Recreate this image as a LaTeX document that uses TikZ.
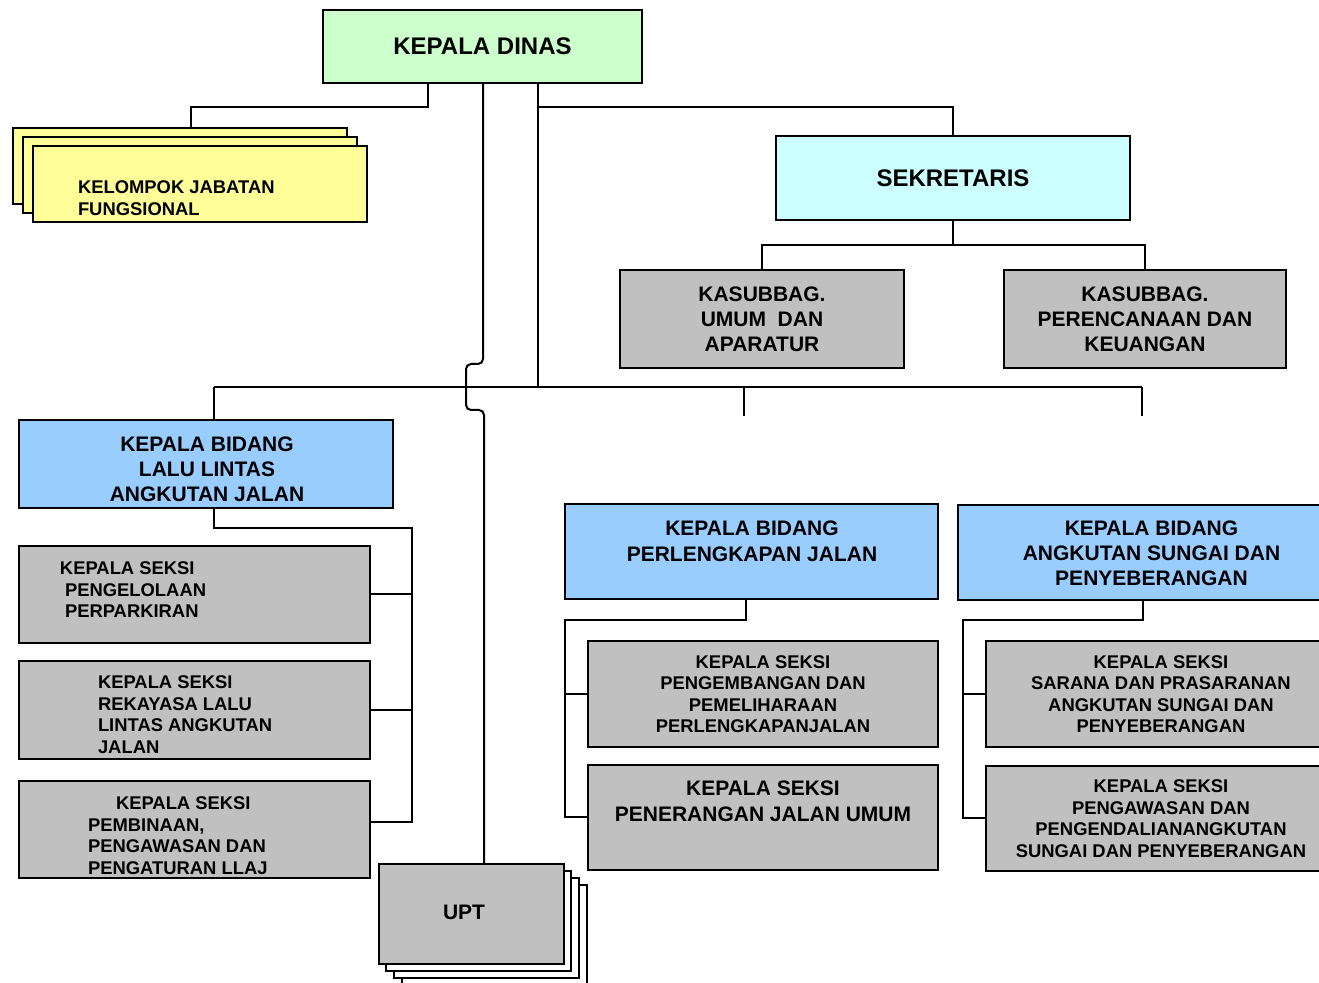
\documentclass[tikz,border=0pt]{standalone}
\usepackage{fontspec}
\setmainfont{Liberation Sans}
\usetikzlibrary{calc,positioning,shadows}
\definecolor{DinasGreen}{RGB}{204,255,204}
\definecolor{SekCyan}{RGB}{204,255,255}
\definecolor{FungYellow}{RGB}{255,255,153}
\definecolor{BidangBlue}{RGB}{153,204,255}
\definecolor{SeksiGray}{RGB}{192,192,192}
\tikzset{
  box/.style={draw,line width=1pt,inner sep=0pt,align=center},
  headbox/.style={box,font=\bfseries\fontsize{12}{14}\selectfont},
  bidang/.style={box,fill=BidangBlue,font=\bfseries\fontsize{10.5}{12.5}\selectfont},
  kasub/.style={box,fill=SeksiGray,font=\bfseries\fontsize{10.5}{12.5}\selectfont},
  seksi/.style={box,fill=SeksiGray,font=\bfseries\fontsize{9.2}{10.75}\selectfont},
  seksitxt/.style={inner sep=0pt,anchor=north west,align=left,font=\bfseries\fontsize{9.2}{10.75}\selectfont},
  bigtxt/.style={inner sep=0pt,align=center,font=\bfseries\fontsize{10.5}{13}\selectfont}
}
\begin{document}
\begin{tikzpicture}[x=0.5pt,y=-0.5pt,line width=1pt]
\useasboundingbox (0,0) rectangle (1319,983);

% pimpinan
\node[headbox,fill=DinasGreen,minimum width=159.5pt,minimum height=36.5pt] (dinas) at (482.5,46.5) {KEPALA DINAS};
\node[headbox,fill=SekCyan,minimum width=177pt,minimum height=42pt] (sek) at (953,178) {SEKRETARIS};
\node[box,fill=FungYellow,minimum width=167pt,minimum height=38pt,
  copy shadow={shadow xshift=-10pt,shadow yshift=9pt,fill=FungYellow},
  copy shadow={shadow xshift=-5pt,shadow yshift=4.5pt,fill=FungYellow}] (kjf) at (200,184) {};
\node[seksitxt,font=\bfseries\fontsize{9.2}{11}\selectfont] (kjft) at (77,180) {KELOMPOK JABATAN\\FUNGSIONAL};

% sekretariat
\node[kasub,minimum width=142pt,minimum height=49pt] (kumum) at (762,319) {KASUBBAG.\\UMUM\ \ DAN\\APARATUR};
\node[kasub,minimum width=141pt,minimum height=49pt] (kren) at (1145,319) {KASUBBAG.\\PERENCANAAN DAN\\KEUANGAN};

% bidang
\node[bidang,minimum width=187pt,minimum height=44pt] (bllaj) at (206,464) {};
\node[bigtxt,font=\bfseries\fontsize{10.5}{12.5}\selectfont] (bllajt) at (207,469) {KEPALA BIDANG\\LALU LINTAS\\ANGKUTAN JALAN};
\node[bidang,minimum width=186.5pt,minimum height=47.5pt] (bpj) at (751.5,551.5) {};
\node[bigtxt] (bpjt) at (752,541.5) {KEPALA BIDANG\\PERLENGKAPAN JALAN};
\node[bidang,minimum width=193.5pt,minimum height=47.5pt] (basdp) at (1151.5,553) {KEPALA BIDANG\\ANGKUTAN SUNGAI DAN\\PENYEBERANGAN};

% seksi bidang LLAJ
\node[seksi,minimum width=175.5pt,minimum height=48.5pt] (s1) at (194.5,594.5) {};
\node[seksitxt] (s1t) at (59,561) {KEPALA SEKSI\\\hspace*{2.5pt}PENGELOLAAN\\\hspace*{2.5pt}PERPARKIRAN};
\node[seksi,minimum width=175.5pt,minimum height=49pt] (s2) at (194.5,710) {};
\node[seksitxt] (s2t) at (97,675) {KEPALA SEKSI\\REKAYASA LALU\\LINTAS ANGKUTAN\\JALAN};
\node[seksi,minimum width=175.5pt,minimum height=48.5pt] (s3) at (194.5,829.5) {};
\node[seksitxt] (s3t) at (87,796) {\hspace*{14pt}KEPALA SEKSI\\PEMBINAAN,\\PENGAWASAN DAN\\PENGATURAN LLAJ};

% seksi bidang perlengkapan jalan
\node[seksi,minimum width=175pt,minimum height=53pt] (pj1) at (763,694) {KEPALA SEKSI\\PENGEMBANGAN DAN\\PEMELIHARAAN\\PERLENGKAPANJALAN};
\node[seksi,minimum width=175pt,minimum height=52.5pt] (pj2) at (763,817.5) {};
\node[bigtxt] (pj2t) at (763,801) {KEPALA SEKSI\\PENERANGAN JALAN UMUM};

% seksi bidang ASDP
\node[seksi,minimum width=175pt,minimum height=53pt] (sd1) at (1161,694) {KEPALA SEKSI\\SARANA DAN PRASARANAN\\ANGKUTAN SUNGAI DAN\\PENYEBERANGAN};
\node[seksi,minimum width=175pt,minimum height=52.5pt] (sd2) at (1161,818.5) {KEPALA SEKSI\\PENGAWASAN DAN\\PENGENDALIANANGKUTAN\\SUNGAI DAN PENYEBERANGAN};

% UPT
\node[kasub,minimum width=92.5pt,minimum height=50pt,
  copy shadow={shadow xshift=11.5pt,shadow yshift=-10.5pt,fill=white},
  copy shadow={shadow xshift=7.5pt,shadow yshift=-7pt,fill=white},
  copy shadow={shadow xshift=3.5pt,shadow yshift=-3.5pt,fill=white}] (upt) at (471.5,914) {};
\node[bigtxt] (uptt) at (464,912) {UPT};

% garis komando atas
\coordinate (kjfin) at (191,128);
\coordinate (jA) at (428,107);
\coordinate (jB) at (538,107);
\coordinate (jC) at (538,387);
\draw (dinas.south -| jA) -- (jA) -| (kjfin);
\draw (dinas.south -| jB) -- (jC);
\draw (jB) -| (sek.north);
\coordinate (jD) at (953,245);
\draw (sek.south) -- (jD);
\draw (kumum.north) |- (jD) -| (kren.north);

% garis bidang
\coordinate (busL) at (214,387);
\coordinate (busM) at (744,387);
\coordinate (busR) at (1142,387);
\coordinate (stubM) at (744,416);
\coordinate (stubR) at (1142,416);
\draw (busL) -- (busR);
\draw (busL) -- (busL |- bllaj.north);
\draw (busM) -- (stubM);
\draw (busR) -- (stubR);

% garis UPT, melompati garis bidang
\coordinate (uA) at (483,364);
\coordinate (uB) at (466,364);
\coordinate (uC) at (466,410);
\coordinate (uD) at (484,410);
\draw[rounded corners=2.5pt] (dinas.south -| uA) -- (uA) -- (uB) -- (uC) -- (uD) -- (uD |- upt.north);

% seksi LLAJ
\coordinate (lA) at (214,528);
\coordinate (lB) at (412,528);
\coordinate (lC) at (412,822);
\draw (bllaj.south -| lA) -- (lA) -- (lB) -- (lC) -- (lC -| s3.east);
\draw (s1.east) -- (s1.east -| lB);
\draw (s2.east) -- (s2.east -| lB);

% seksi perlengkapan jalan
\coordinate (pA) at (746,620);
\coordinate (pB) at (565,620);
\draw (bpj.south -| pA) -- (pA) -- (pB) |- (pj2.west);
\draw (pj1.west) -- (pj1.west -| pB);

% seksi ASDP
\coordinate (aA) at (1143,620);
\coordinate (aB) at (963,620);
\draw (basdp.south -| aA) -- (aA) -- (aB) |- (sd2.west);
\draw (sd1.west) -- (sd1.west -| aB);
\end{tikzpicture}
\end{document}
